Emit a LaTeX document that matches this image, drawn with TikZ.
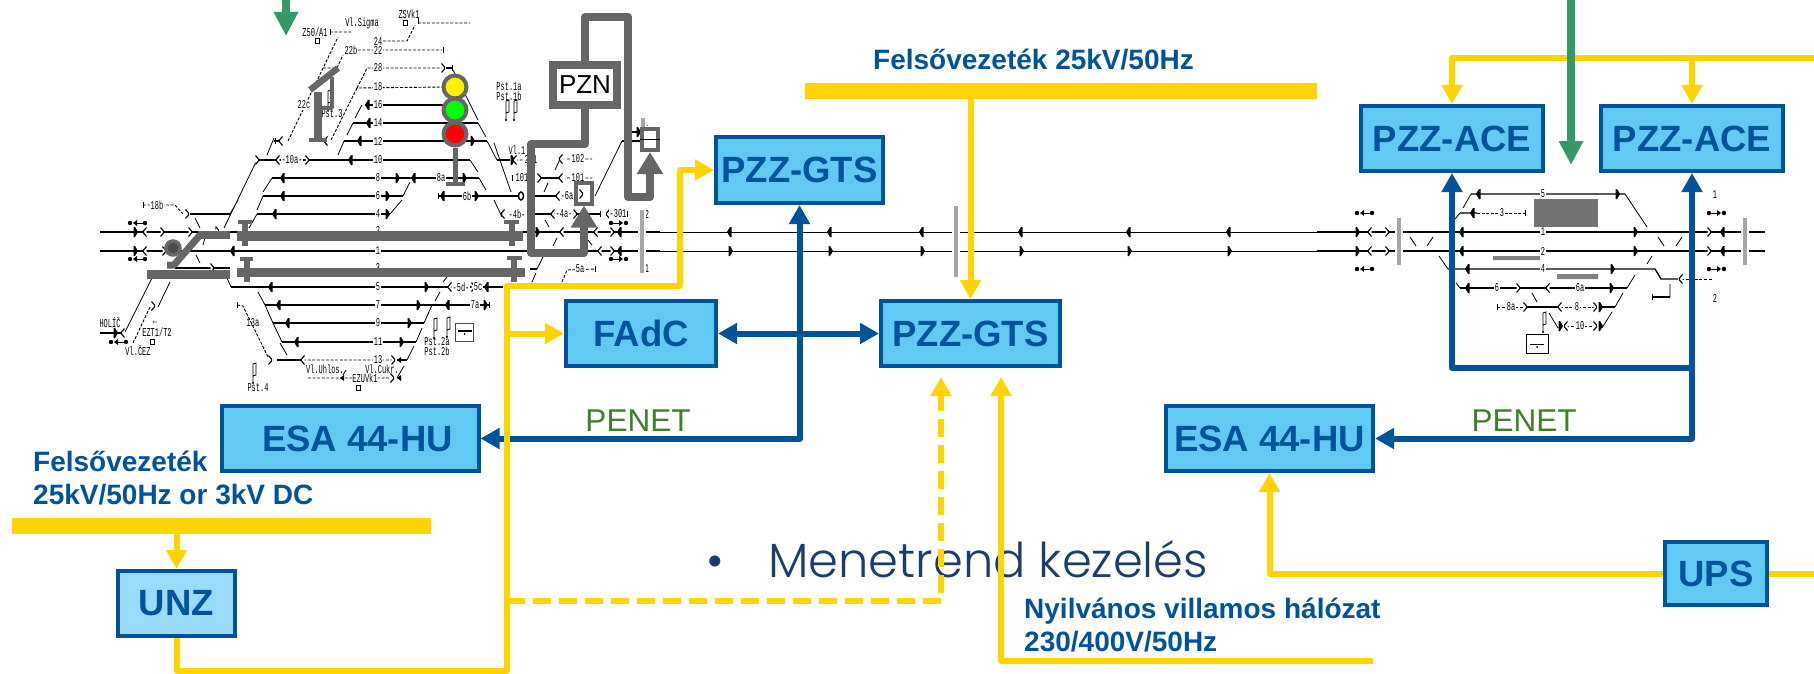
\documentclass[tikz,border=0pt]{standalone}
\usepackage{fontspec}
\setmainfont{Liberation Sans}
\newfontfamily\trkfont[FakeStretch=0.58]{Liberation Mono}
\newfontfamily\menfont{Poppins Light}
\usetikzlibrary{arrows.meta}
\definecolor{ylw}{HTML}{FFD400}
\definecolor{blu}{HTML}{00529B}
\definecolor{sky}{HTML}{60CAF3}
\definecolor{skyl}{HTML}{99DBF9}
\definecolor{grn}{HTML}{339966}
\definecolor{sgry}{HTML}{666666}
\definecolor{olv}{HTML}{3F7F2A}
\definecolor{nav}{HTML}{1B3D6D}
\begin{document}
\begin{tikzpicture}[x=1pt,y=-1pt]
		\useasboundingbox (0,0) rectangle (1814,674);

		\tikzset{unit/.style = {shape=rectangle,draw=blu,fill=sky,line width=4pt,text=blu,font=\bfseries\fontsize{36.5}{36.5}\selectfont,inner sep=0pt}}
		\tikzset{txt/.style = {text=blu,font=\bfseries\fontsize{28}{33}\selectfont,inner sep=0pt,align=left,anchor=west}}
		\tikzset{pen/.style = {text=olv,font=\fontsize{31.5}{31.5}\selectfont,inner sep=0pt}}
		\tikzset{railbar/.style = {shape=rectangle,fill=ylw,inner sep=0pt,outer sep=0pt}}
		\tikzset{lab/.style = {font=\trkfont\fontsize{12}{12}\selectfont,inner sep=0.5pt,fill=white}}
		\tikzset{nlab/.style = {font=\trkfont\fontsize{12}{12}\selectfont,inner sep=0pt}}
		\tikzset{edge/.style = {-,> = {Triangle[width=20pt,length=19pt]},line join=round}}
		\tikzset{yel/.style = {edge,draw=ylw,line width=6pt}}
		\tikzset{bluedge/.style = {edge,draw=blu,line width=6pt}}
		\tikzset{grnedge/.style = {edge,draw=grn,line width=8pt,> = {Triangle[width=23pt,length=24pt]}}}
		\tikzset{gry/.style = {edge,draw=sgry,line width=8pt,> = {Triangle[width=25pt,length=22pt]}}}
		\tikzset{lamp/.style = {shape=circle,draw=sgry,line width=4pt,minimum size=23pt,inner sep=0pt}}
		\tikzset{gbox/.style = {shape=rectangle,draw=sgry,fill=white,inner sep=0pt}}
		\tikzset{trk/.style = {line width=1.4pt}}
		\tikzset{thn/.style = {line width=0.8pt}}
		\tikzset{dsh/.style = {line width=0.9pt,dash pattern=on 3pt off 1.6pt}}
		\tikzset{stp/.style = {line width=3.5pt,draw=gray!70,preaction={draw=white,line width=8pt}}}
		\tikzset{pics/sigl/.style = {code={\fill (-3,0) -- (0,-5) -- (1.5,-5) -- (1.5,5) -- (0,5) -- cycle;}}}
		\tikzset{pics/sigr/.style = {code={\fill (3,0) -- (0,-5) -- (-1.5,-5) -- (-1.5,5) -- (0,5) -- cycle;}}}
		\tikzset{pics/chl/.style = {code={\draw[line width=1.1pt,fill=white] (1.5,-4.5) -- (-1.5,-1) -- (-1.5,1) -- (1.5,4.5);}}}
		\tikzset{pics/chr/.style = {code={\draw[line width=1.1pt,fill=white] (-1.5,-4.5) -- (1.5,-1) -- (1.5,1) -- (-1.5,4.5);}}}
		\tikzset{pics/tck/.style = {code={\draw[line width=1pt] (0,-3) -- (0,3);}}}
		\tikzset{pics/dota/.style = {code={\fill (0,0) circle (2.2) (15,0) circle (2.2) (3,0) -- (7,-3) -- (7,3) -- cycle; \draw[line width=1pt] (5,0) -- (13,0);}}}
		\tikzset{pics/dotb/.style = {code={\fill (0,0) circle (2.2) (15,0) circle (2.2) (12,0) -- (8,-3) -- (8,3) -- cycle; \draw[line width=1pt] (2,0) -- (10,0);}}}
		\tikzset{pics/flg/.style = {code={\draw[line width=0.9pt] (0,10) -- (0,-9) -- (3,-10) -- (3,2) -- (0,3); \fill (0,10) circle (1.2);}}}
		\tikzset{pics/sqm/.style = {code={\draw[line width=0.9pt] (-2,-2.5) rectangle (2,2.5);}}}
		\tikzset{pics/ctl/.style = {code={\draw[line width=1pt,draw=black!70] (-9,-9) rectangle (9,9); \draw[line width=1.2pt] (-7,-1) -- (7,-1); \fill (0,2) circle (1);}}}

		%left station, tracks
		\draw[trk] (100,232) -- (660,232) (100,251) -- (660,251) (1317,232) -- (1765,232) (1317,251) -- (1765,251);
		\draw[line width=1pt] (660,232) -- (1317,232) (660,251) -- (1317,251);
		\draw[trk] (190,214) -- (230,214) (365,105) -- (465,105) (353,123) -- (478,123) (344,141) -- (487,141);
		\draw[trk] (257,160) -- (470,160) (272,178) -- (479,178) (263,196) -- (403,196) (257,214) -- (390,214);
		\draw[trk] (438,196) -- (518,196) (535,196) -- (557,196) (497,160) -- (510,160);
		\draw[trk] (231,287) -- (503,287) (265,305) -- (489,305) (273,323) -- (424,323) (282,342) -- (416,342);
		\draw[trk] (277,360) -- (303,360) (397,360) -- (407,360) (175,268) -- (230,268) (100,333) -- (123,333);
		\draw[trk] (535,214) -- (553,214) (575,214) -- (600,214) (541,178) -- (561,178) (622,141) -- (655,141);
		\draw[trk] (274,141) -- (281,141) (446,68) -- (452,68) (530,269) -- (537,269) (632,132) -- (640,132);
		%left station, slopes
		\draw[thn] (224,228) -- (256,162) (249,228) -- (257,214) (257,210) -- (263,196) (230,214) -- (238,200);
		\draw[thn] (355,118) -- (362,105) (347,135) -- (353,123) (338,155) -- (344,141) (263,192) -- (272,178);
		\draw[thn] (267,155) -- (274,138) (478,123) -- (486,137) (487,141) -- (497,160) (470,160) -- (478,172);
		\draw[thn] (479,178) -- (486,190) (494,143) -- (511,192) (453,70) -- (478,120) (403,196) -- (410,182);
		\draw[thn] (390,214) -- (402,200) (494,200) -- (502,217) (595,196) -- (622,141) (555,170) -- (561,157);
		\draw[thn] (544,192) -- (548,183) (545,220) -- (549,227) (557,238) -- (553,246) (588,240) -- (592,245);
		\draw[thn] (537,269) -- (543,257) (532,282) -- (536,273) (227,278) -- (231,287) (258,292) -- (265,305);
		\draw[thn] (265,305) -- (273,323) (273,323) -- (282,342) (280,343) -- (287,355) (424,323) -- (432,305);
		\draw[thn] (416,342) -- (422,328) (407,360) -- (414,346) (397,378) -- (404,366) (443,282) -- (447,277);
		\draw[thn] (435,301) -- (440,292) (125,332) -- (152,278) (158,307) -- (170,282) (195,218) -- (200,228);
		\draw[thn] (196,255) -- (200,263) (203,245) -- (205,238) (215,228) -- (217,231) (343,375) -- (346,370);
		%left station, dashed
		\draw[dsh] (288,141) -- (338,37) (331,140) -- (357,88) -- (443,87) (357,88) -- (367,68) -- (442,68);
		\draw[dsh] (330,32) -- (352,32) (344,50) -- (442,50) (337,68) -- (343,55) (323,68) -- (333,68);
		\draw[dsh] (383,41) -- (407,41) -- (415,25) (418,23) -- (470,23) (143,205) -- (175,205) -- (183,214);
		\draw[dsh] (237,305) -- (243,306) -- (268,357) (303,360) -- (393,360) (308,378) -- (392,378);
		\draw[dsh] (133,343) -- (150,307) (515,160) -- (527,160) (567,159) -- (592,159) (567,178) -- (592,178);
		\draw[dsh] (562,282) -- (567,270) -- (595,269) (610,214) -- (627,214);
		%left station, signals
		\path (135,232) pic {sigr} (135,251) pic {sigr} (233,251) pic {sigl} (368,105) pic {sigl} (369,123) pic {sigl};
		\path (360,141) pic {sigl} (472,141) pic {sigr} (351,160) pic {sigl} (283,178) pic {sigl} (397,178) pic {sigr};
		\path (414,178) pic {sigl} (464,178) pic {sigr} (283,196) pic {sigl} (387,196) pic {sigr} (443,196) pic {sigl};
		\path (476,196) pic {sigr} (275,214) pic {sigl} (387,214) pic {sigr} (271,287) pic {sigl} (426,287) pic {sigr};
		\path (487,287) pic {sigl} (279,305) pic {sigl} (418,305) pic {sigr} (448,305) pic {sigl} (485,305) pic {sigr};
		\path (288,323) pic {sigl} (409,323) pic {sigr} (297,342) pic {sigl} (401,342) pic {sigr} (115,333) pic {sigr};
		\path (512,160) pic {sigr} (537,232) pic {sigr} (620,232) pic {sigl} (620,251) pic {sigl} (638,132) pic {sigr};
		\path (145,232) pic {chl} (162,232) pic {chr} (190,232) pic {chr} (145,251) pic {chl} (164,251) pic {chr};
		\path (187,214) pic {chr} (257,160) pic {chr} (278,160) pic {chl} (307,160) pic {chr} (281,141) pic {chl};
		\path (326,141) pic {chl} (443,68) pic {chr} (515,160) pic {chl} (561,159) pic {chl} (561,178) pic {chl};
		\path (539,178) pic {chr} (558,196) pic {chl} (581,196) pic {chr} (503,214) pic {chl} (553,214) pic {chl};
		\path (575,214) pic {chr} (608,214) pic {chl} (562,232) pic {chl} (596,232) pic {chl} (612,232) pic {chr};
		\path (600,251) pic {chl} (612,251) pic {chr} (450,287) pic {chl} (473,287) pic {chr} (212,268) pic {chr};
		\path (123,333) pic {chl} (153,306) pic {chr} (270,360) pic {chr} (303,360) pic {chl} (393,360) pic {chr};
		\path (392,378) pic {chr} (217,231) pic {chr};
		\path (143,205) pic {tck} (275,141) pic {tck} (330,32) pic {tck} (443,50) pic {tck} (452,68) pic {tck};
		\path (438,196) pic {tck} (489,305) pic {tck} (237,305) pic {tck} (512,178) pic {tck} (527,160) pic {tck};
		\path (600,214) pic {tck} (627,214) pic {tck} (595,269) pic {tck} (418,21) pic {tck};
		\path (130,223) pic {dota} (130,259) pic {dota} (611,223) pic {dotb} (611,259) pic {dotb} (111,342) pic {dota};
		\path (328,100) pic {flg} (506,110) pic {flg} (514,110) pic {flg} (434,328) pic {flg} (447,327) pic {flg} (253,373) pic {flg};
		\path (317,41) pic {sqm} (405,23) pic {sqm} (152,342) pic {sqm} (358,388) pic {sqm} (464.5,332) pic {ctl};
		\fill (340,378) -- (344,375) -- (344,381) -- cycle (397,360) -- (401,357) -- (401,363) -- cycle (397,378) -- (401,375) -- (401,381) -- cycle;
		\draw[trk,fill=white] (521,196) ellipse (2.5 and 4);
		\draw[trk,fill=white] (627,141) ellipse (2.5 and 4);
		%left station, labels
		\node[nlab] (z50) at (315,32) {Z50/A1};
		\node[nlab] (sig) at (362,23) {Vl.Sigma};
		\node[nlab] (zsv) at (409,14) {ZSVk1};
		\node[lab] (t24) at (378,41) {24};
		\node[lab] (t22b) at (351,50) {22b};
		\node[lab] (t22) at (378,50) {22};
		\node[lab] (t28) at (378,68) {28};
		\node[lab] (t18) at (378,87) {18};
		\node[lab] (t16) at (378,105) {16};
		\node[lab] (t14) at (378,123) {14};
		\node[lab] (t12) at (378,141) {12};
		\node[lab] (t10) at (378,160) {10};
		\node[lab] (t8) at (378,178) {8};
		\node[lab] (t6) at (378,196) {6};
		\node[lab] (t4) at (378,214) {4};
		\node[lab] (t2) at (378,230) {2};
		\node[lab] (t1) at (378,251) {1};
		\node[lab] (t3) at (378,268) {3};
		\node[lab] (t5) at (378,287) {5};
		\node[lab] (t7) at (378,305) {7};
		\node[lab] (t9) at (378,323) {9};
		\node[lab] (t11) at (378,342) {11};
		\node[lab] (t13) at (378,360) {13};
		\node[lab] (t22c) at (304,105) {22c};
		\node[nlab] (pst3) at (332,114) {Pst.3};
		\node[lab] (t10a) at (292,160) {-10a-};
		\node[lab] (t18b) at (157,205) {18b};
		\node[lab] (t8a) at (441,178) {8a};
		\node[lab] (t6b) at (467,196) {6b};
		\node[lab] (t5d) at (461,287) {-5d-};
		\node[lab] (t5c) at (478,287) {5c};
		\node[lab] (t7a) at (475,305) {7a};
		\node[nlab] (pst1a) at (509,87) {Pst.1a};
		\node[nlab] (pst1b) at (509,96) {Pst.1b};
		\node[nlab] (pst2a) at (437,342) {Pst.2a};
		\node[nlab] (pst2b) at (437,351) {Pst.2b};
		\node[nlab] (pst4) at (258,388) {Pst.4};
		\node[nlab] (vl1) at (517,150) {Vl.1};
		\node[lab] (t201) at (531,160) {201};
		\node[lab] (t101b) at (522,178) {101};
		\node[lab] (t102) at (578,159) {102};
		\node[lab] (t101) at (578,178) {101};
		\node[lab] (t6a) at (569,196) {-6a-};
		\node[lab] (t4b) at (517,214) {-4b-};
		\node[lab] (t4a) at (564,214) {-4a-};
		\node[lab] (t301) at (618,214) {-301};
		\node[lab] (t5a) at (580,269) {5a};
		\node[nlab] (stp2) at (647,214) {2};
		\node[nlab] (stp1) at (647,269) {1};
		\node[nlab] (stp3) at (646,123) {1};
		\node[nlab] (hol) at (110,323) {HOLÍČ};
		\node[nlab] (ezt) at (157,332) {EZT1/T2};
		\node[nlab] (vce) at (138,351) {Vl.ČEZ};
		\node[nlab] (arw) at (155,323) {←};
		\node[nlab] (t13a) at (253,323) {13a};
		\node[nlab] (uhl) at (325,369) {Vl.Uhlos.};
		\node[nlab] (cuk) at (382,369) {Vl.Cukr.};
		\node[lab] (ezu) at (365,378) {EZUVk1};
		\draw[stp] (642,210) -- (642,273);
		\draw[stp] (643,118) -- (643,128);
		%line between the stations
		\path (730,232) pic {sigl} (830,232) pic {sigl} (922,232) pic {sigl} (1021,232) pic {sigl} (1129,232) pic {sigl} (1229,232) pic {sigl};
		\path (730,251) pic {sigr} (830,251) pic {sigr} (922,251) pic {sigr} (1021,251) pic {sigr} (1129,251) pic {sigr} (1229,251) pic {sigr};
		\draw[stp] (956,206) -- (956,277);
		%right station
		\fill[black!55] (1534,199) rectangle (1598,227);
		\fill[gray] (1493,256) rectangle (1540,260) (1557,274) rectangle (1598,279);
		\draw[trk] (1471,194) -- (1625,194) (1460,213) -- (1477,213) (1448,269) -- (1655,269) -- (1661,279) -- (1678,279);
		\draw[trk] (1460,288) -- (1627,288) (1525,307) -- (1558,307) (1600,307) -- (1615,307) (1662,297) -- (1670,297);
		\draw[thn] (1463,208) -- (1471,194) (1625,194) -- (1647,227) (1455,219) -- (1460,213) (1439,256) -- (1448,269);
		\draw[thn] (1456,283) -- (1460,288) (1627,288) -- (1635,275) (1615,307) -- (1623,293) (1602,328) -- (1612,312);
		\draw[thn] (1532,293) -- (1537,302) (1549,313) -- (1558,328) (1670,297) -- (1670,284) (1647,264) -- (1652,256);
		\draw[thn] (1410,237) -- (1416,246) (1427,246) -- (1433,237) (1658,237) -- (1664,246) (1676,246) -- (1682,237);
		\draw[dsh] (1477,213) -- (1525,213) (1681,279) -- (1712,279) (1497,307) -- (1525,307) (1560,307) -- (1595,307) (1566,326) -- (1595,326);
		\path (1357,232) pic {sigr} (1357,251) pic {sigr} (1462,232) pic {sigl} (1462,251) pic {sigl} (1635,232) pic {sigr} (1635,251) pic {sigr};
		\path (1723,232) pic {sigl} (1723,251) pic {sigl} (1479,194) pic {sigl} (1617,194) pic {sigr} (1473,213) pic {sigl};
		\path (1468,269) pic {sigl} (1612,269) pic {sigr} (1468,288) pic {sigl} (1611,288) pic {sigr} (1600,307) pic {sigr} (1600,326) pic {sigr};
		\path (1370,232) pic {chl} (1387,232) pic {chr} (1370,251) pic {chl} (1387,251) pic {chr} (1709,232) pic {chr} (1709,251) pic {chr};
		\path (1518,288) pic {chr} (1548,288) pic {chl} (1525,307) pic {chr} (1560,307) pic {chl} (1595,307) pic {chr};
		\path (1566,326) pic {chl} (1595,326) pic {chr} (1681,279) pic {chl} (1560,326) pic {sigr};
		\path (1525,213) pic {tck} (1497,307) pic {tck} (1652,297) pic {tck};
		\path (1357,213) pic {dota} (1357,269) pic {dota} (1709,213) pic {dotb} (1709,269) pic {dotb};
		\draw[trk] (1652,297) -- (1662,297);
		\path (1543,322) pic {flg};
		\draw[line width=1pt] (1526,334) rectangle (1548,353) (1530,344) -- (1544,344);
		\fill (1537,347) circle (1);
		\node[lab] (q5) at (1543,194) {5};
		\node[lab] (q3) at (1502,213) {3};
		\node[lab] (q1) at (1543,232) {1};
		\node[lab] (q2) at (1543,251) {2};
		\node[lab] (q4) at (1543,269) {4};
		\node[lab] (q6) at (1497,288) {6};
		\node[lab] (q6a) at (1580,288) {6a};
		\node[lab] (q8a) at (1511,307) {8a};
		\node[lab] (q8) at (1577,307) {8};
		\node[lab] (q10) at (1580,326) {10};
		\node[nlab] (qr1) at (1715,195) {1};
		\node[nlab] (qr2) at (1715,298) {2};
		\draw[stp] (1399,218) -- (1399,265);
		\draw[stp] (1745,218) -- (1745,265);

		%units
		\node[gbox,line width=8pt,minimum width=64pt,minimum height=40pt,font=\fontsize{26}{26}\selectfont] (pzn) at (585,85) {PZN};
		\node[gbox,line width=4pt,minimum width=16pt,minimum height=21pt] (bx1) at (584,193) {};
		\node[gbox,line width=4pt,minimum width=16pt,minimum height=21pt] (bx2) at (650,139.5) {};
		\draw[thn] (bx2.west) -- (bx2.east);
		\path (581,194) pic {chr};
		\node[lamp,fill=yellow] (lamp1) at (455,87) {};
		\node[lamp,fill=green] (lamp2) at (455,110) {};
		\node[lamp,fill=red] (lamp3) at (455,134) {};
		\node[unit,minimum width=167pt,minimum height=66pt] (gts1) at (799.5,170) {PZZ-GTS};
		\node[unit,minimum width=179pt,minimum height=65pt] (gts2) at (970.5,333.5) {PZZ-GTS};
		\node[unit,minimum width=150pt,minimum height=65pt] (fadc) at (641,333.5) {FAdC};
		\node[unit,minimum width=257pt,minimum height=65pt] (esa1) at (350,438.5) {\hspace*{15pt}ESA 44-HU};
		\node[unit,minimum width=207pt,minimum height=65pt] (esa2) at (1269.5,438.5) {ESA 44-HU};
		\node[unit,minimum width=182pt,minimum height=65pt] (ace1) at (1452,138.5) {PZZ-ACE};
		\node[unit,minimum width=182pt,minimum height=65pt] (ace2) at (1692,138.5) {PZZ-ACE};
		\node[unit,fill=skyl,minimum width=117pt,minimum height=65pt] (unz) at (176.5,603.5) {UNZ};
		\node[unit,minimum width=102pt,minimum height=63pt] (ups) at (1716,573.5) {UPS};
		\node[railbar,minimum width=512pt,minimum height=16pt] (bar1) at (1061,91) {};
		\node[railbar,minimum width=419pt,minimum height=16pt] (bar2) at (221.5,526) {};
		\node[txt] (cap1) at (873,60) {Felsővezeték 25kV/50Hz};
		\node[txt] (cap2) at (33,478) {Felsővezeték\\25kV/50Hz or 3kV DC};
		\node[txt] (cap3) at (1024,625) {Nyilvános villamos hálózat\\230/400V/50Hz};
		\node[pen] (pen1) at (638,421) {PENET};
		\node[pen] (pen2) at (1524,421) {PENET};
		\node[inner sep=0pt,text=nav,font=\menfont\fontsize{48}{48}\selectfont,anchor=base west] (men) at (768,577) {Menetrend kezelés};
		\node[inner sep=0pt,text=nav,font=\menfont\fontsize{48}{48}\selectfont,anchor=base] (bul) at (715,577) {•};

		%corners
		\coordinate (top1) at (286,0);
		\coordinate (top2) at (286,36);
		\coordinate (top3) at (1571,0);
		\coordinate (top4) at (1571,165);
		\coordinate (jb) at (507,671);
		\coordinate (jt) at (507,286);
		\coordinate (jr) at (680,286);
		\coordinate (jd) at (507,601);
		\coordinate (dash1) at (941,377);
		\coordinate (pub1) at (1373,661);
		\coordinate (pub2) at (1001,377);
		\coordinate (feed) at (1814,58);
		\coordinate (feed2) at (1814,573.5);
		\coordinate (loop) at (1692,368);
		\coordinate (g1) at (628,17);
		\coordinate (g2) at (628,197);
		\coordinate (g3) at (531,144);
		\coordinate (g4) at (531,253);
		\coordinate (pole) at (455,184);

		%edges
		\draw[gry,line width=5pt] (lamp3.south) -- (pole);
		\draw[sgry,line width=4pt] (446,184) -- (465,184);
		\draw[gry,->] (pzn.north) |- (g1) -- (g2) -| (bx2.south);
		\draw[gry,->] (pzn.south) |- (g3) -- (g4) -| (bx1.south);
		\draw[gry,line width=8pt] (318,140) -- (318,92);
		\draw[sgry,line width=4.5pt] (309,140) -- (327,140);
		\draw[sgry,line width=6.5pt] (310,90) -- (338,68);
		\draw[gry,line width=3.5pt] (332,77) -- (332,108) -- (322,108);
		\draw[gry,line width=8pt] (198,235) -- (230,235);
		\draw[gry,line width=7pt] (200,235) -- (174,265) -- (167,265);
		\draw[gry,line width=9pt] (147,274) -- (230,274);
		\draw[gry,line width=10pt] (237,236) -- (523,236);
		\draw[gry,line width=9pt] (237,272) -- (525,272);
		\draw[gry,line width=6pt] (245,220) -- (245,246);
		\draw[sgry,line width=4pt] (238,222) -- (252,222);
		\draw[gry,line width=6pt] (512,222) -- (512,246);
		\draw[sgry,line width=4pt] (504,222) -- (519,222);
		\draw[gry,line width=6pt] (247,257) -- (247,282);
		\draw[sgry,line width=4pt] (240,259) -- (253,259);
		\draw[gry,line width=6pt] (514,256) -- (514,282);
		\draw[sgry,line width=4pt] (507,258) -- (522,258);
		\draw[sgry,fill=black!70,line width=3.5pt] (173,248) circle (7);
		\draw[bluedge,<->] (fadc.east) -- (gts2.west);
		\draw[bluedge,<->] (gts1.south) |- (esa1.east);
		\draw[bluedge,<-] (ace1.south) |- (loop);
		\draw[bluedge,<->] (ace2.south) |- (esa2.east);
		\draw[yel,->] (bar1.south -| gts2.north) -- (gts2.north);
		\draw[yel,->] (bar2.south -| unz.north) -- (unz.north);
		\draw[yel,->] (unz.south) |- (jb) -- (jt) -- (jr) |- (gts1.west);
		\draw[yel,->] (jt |- fadc.west) -- (fadc.west);
		\draw[yel,->,dash pattern=on 18pt off 8pt] (jd) -| (dash1);
		\draw[yel,->] (pub1) -| (pub2);
		\draw[yel,->] (ups.west) -| (esa2.south);
		\draw[yel] (ups.east) -- (feed2);
		\draw[yel,->] (feed) -| (ace1.north);
		\draw[yel,->] (ace2.north |- feed) -- (ace2.north);
		\draw[grnedge,->] (top1) -- (top2);
		\draw[grnedge,->] (top3) -- (top4);
		\end{tikzpicture}
\end{document}
